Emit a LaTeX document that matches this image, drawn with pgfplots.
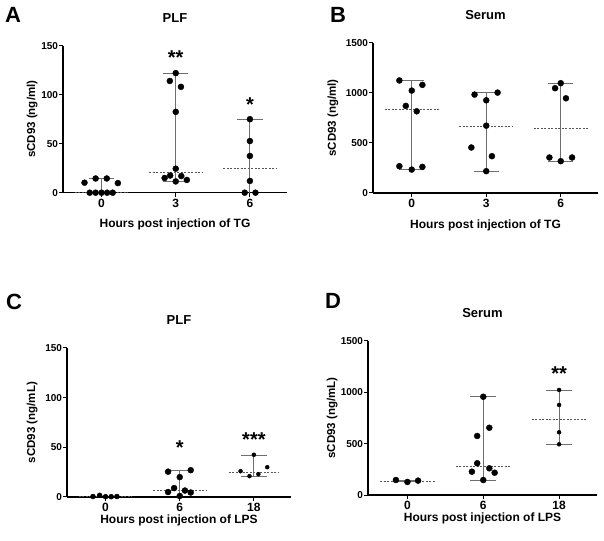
\documentclass[border=0pt]{standalone}
\usepackage{pgfplots}
\pgfplotsset{compat=1.18}
\usepackage{fontspec}
\setmainfont{Liberation Sans}
\definecolor{rngc}{HTML}{6E6E6E}
\definecolor{medc}{HTML}{555555}
\pgfplotsset{
  panel/.style={
    scale only axis, width=224pt, height=148pt,
    axis lines=left, axis line style={-, line width=1.2pt, black},
    xmin=-0.52, xmax=2.5, ymin=0,
    xtick={0,1,2}, tick align=outside, major tick length=4pt,
    tick style={black, line width=1pt},
    clip=false,
    /pgf/number format/assume math mode=true,
    /pgf/number format/1000 sep={},
    xticklabel style={font=\bfseries\fontsize{12}{12}\selectfont, inner ysep=2pt},
    yticklabel style={font=\bfseries\fontsize{10}{10}\selectfont, inner xsep=0.8pt},
    ylabel style={font=\bfseries\fontsize{11.5}{12}\selectfont, anchor=center},
    xlabel style={font=\bfseries\fontsize{12}{12}\selectfont, anchor=center},
    title style={font=\bfseries\fontsize{13}{13}\selectfont, at={(0.5,1)}, anchor=base, yshift=17.5pt},
    scaled y ticks=false,
  },
  rng/.style={rngc, line width=1pt, forget plot},
  med/.style={medc, line width=0.8pt, dash pattern=on 2pt off 1.5pt, forget plot},
  pts/.style={only marks, mark=*, mark size=3pt, black, forget plot},
  spts/.style={only marks, mark=*, mark size=2pt, black, forget plot},
  mpts/.style={only marks, mark=*, mark size=2.5pt, black, forget plot},
}
\newcommand{\starnode}[3]{\node[font=\bfseries\fontsize{20}{20}\selectfont, anchor=base, yshift=-11pt] at (axis cs:#1,#2) {#3};}
\begin{document}
\begin{tikzpicture}
\useasboundingbox (0,0) rectangle (604pt,540pt);
\node[anchor=base west, font=\bfseries\fontsize{22}{22}\selectfont, inner sep=0pt] at (5pt,517pt) {A};
\node[anchor=base west, font=\bfseries\fontsize{22}{22}\selectfont, inner sep=0pt] at (330pt,517pt) {B};
\node[anchor=base west, font=\bfseries\fontsize{22}{22}\selectfont, inner sep=0pt] at (6pt,230pt) {C};
\node[anchor=base west, font=\bfseries\fontsize{22}{22}\selectfont, inner sep=0pt] at (325pt,231pt) {D};

% ---------------- Panel A ----------------
\begin{axis}[panel, at={(63pt,347.3pt)}, anchor=south west, height=147pt,
  ymax=150, ytick={0,50,100,150}, xticklabels={0,3,6},
  title={PLF}, ylabel={sCD93 (ng/ml)}, xlabel={Hours post injection of TG},
  ylabel style={at={(axis description cs:-0.138,0.5)}},
  xlabel style={at={(axis description cs:0.5,-0.218)}}]
% group 0
\addplot[med] coordinates {(-0.36,0) (0.36,0)};
\addplot[rng] coordinates {(0,0) (0,14.5)};
\addplot[rng] coordinates {(-0.17,14.5) (0.17,14.5)};
\addplot[pts] coordinates {(-0.23,10.2) (-0.08,14.5) (0.07,14.5) (0.22,9.8) (-0.16,0) (-0.08,0) (0,0) (0.075,0) (0.15,0)};
% group 3
\addplot[med] coordinates {(0.64,21) (1.36,21)};
\addplot[rng] coordinates {(1,11.5) (1,122)};
\addplot[rng] coordinates {(0.83,122) (1.17,122)};
\addplot[rng] coordinates {(0.83,11.5) (1.17,11.5)};
\addplot[pts] coordinates {(1,122) (0.92,114) (1.07,108) (1,82.5) (1,24.5) (0.925,17.5) (0.85,15) (1.075,17) (1.15,13) (1,11.5)};
% group 6
\addplot[med] coordinates {(1.64,24.5) (2.36,24.5)};
\addplot[rng] coordinates {(2,0) (2,75)};
\addplot[rng] coordinates {(1.83,75) (2.17,75)};
\addplot[pts] coordinates {(2,75) (2,52.7) (2,37.5) (2,12) (1.93,0) (2.075,0)};
\starnode{1}{142}{**}
\starnode{2}{94.5}{*}
\end{axis}

% ---------------- Panel B ----------------
\begin{axis}[panel, at={(373pt,347pt)}, anchor=south west, width=225pt, height=150pt,
  ymax=1500, ytick={0,500,1000,1500}, xticklabels={0,3,6},
  title={Serum}, ylabel={sCD93 (ng/ml)}, xlabel={Hours post injection of TG},
  ylabel style={at={(axis description cs:-0.178,0.5)}},
  xlabel style={at={(axis description cs:0.5,-0.213)}}]
\addplot[med] coordinates {(-0.36,837) (0.36,837)};
\addplot[rng] coordinates {(0,234) (0,1120)};
\addplot[rng] coordinates {(-0.17,1120) (0.17,1120)};
\addplot[rng] coordinates {(-0.17,234) (0.17,234)};
\addplot[pts] coordinates {(-0.166,1125) (0,1024) (0.143,1081) (-0.08,871) (0.067,817) (-0.166,268) (0,234) (0.143,261)};
\addplot[med] coordinates {(0.64,665) (1.36,665)};
\addplot[rng] coordinates {(1,212) (1,1000)};
\addplot[rng] coordinates {(0.83,1000) (1.17,1000)};
\addplot[rng] coordinates {(0.83,212) (1.17,212)};
\addplot[pts] coordinates {(0.843,984) (1.152,1004) (1,927) (1,673) (0.8,455) (1.076,368) (1,218)};
\addplot[med] coordinates {(1.64,646) (2.36,646)};
\addplot[rng] coordinates {(2,318) (2,1090)};
\addplot[rng] coordinates {(1.83,1090) (2.17,1090)};
\addplot[rng] coordinates {(1.83,318) (2.17,318)};
\addplot[pts] coordinates {(1.924,1048) (2,1098) (2.07,947) (1.848,355) (2,318) (2.152,355)};
\end{axis}

% ---------------- Panel C ----------------
\begin{axis}[panel, at={(67pt,43pt)}, anchor=south west, height=149pt,
  ymax=150, ytick={0,50,100,150}, xticklabels={0,6,18},
  title={PLF}, ylabel={sCD93 (ng/mL)}, xlabel={Hours post injection of LPS},
  ylabel style={at={(axis description cs:-0.156,0.5)}},
  xlabel style={at={(axis description cs:0.5,-0.158)}}]
\addplot[med] coordinates {(-0.36,0.5) (0.36,0.5)};
\addplot[rng] coordinates {(0,0.3) (0,1.7)};
\addplot[mpts] coordinates {(-0.17,0.5) (-0.08,1.7) (0,0.3) (0.076,0.3) (0.153,0.5)};
\addplot[med] coordinates {(0.64,7) (1.36,7)};
\addplot[rng] coordinates {(1,1) (1,27)};
\addplot[rng] coordinates {(0.83,27) (1.17,27)};
\addplot[pts] coordinates {(0.843,25.5) (1.148,27) (1,20) (0.924,9) (0.843,5) (1.07,6.5) (1.148,4.5) (1,1)};
\addplot[med] coordinates {(1.66,25.2) (2.34,25.2)};
\addplot[rng] coordinates {(2,21) (2,42)};
\addplot[rng] coordinates {(1.83,42) (2.17,42)};
\addplot[rng] coordinates {(1.83,21) (2.17,21)};
\addplot[spts] coordinates {(2,42.5) (1.82,26) (2.18,30) (2.06,23) (1.94,21)};
\starnode{1}{54}{*}
\starnode{2}{61.7}{***}
\end{axis}

% ---------------- Panel D ----------------
\begin{axis}[panel, at={(368pt,45pt)}, anchor=south west, width=229pt, height=154pt,
  ymax=1500, ytick={0,500,1000,1500}, xticklabels={0,6,18},
  title={Serum}, ylabel={sCD93 (ng/mL)}, xlabel={Hours post injection of LPS},
  ylabel style={at={(axis description cs:-0.157,0.5)}},
  xlabel style={at={(axis description cs:0.5,-0.155)}}]
\addplot[med] coordinates {(-0.36,133) (0.36,133)};
\addplot[rng] coordinates {(0,127) (0,146)};
\addplot[rng] coordinates {(-0.17,146) (0.17,146)};
\addplot[rng] coordinates {(-0.17,127) (0.17,127)};
\addplot[pts] coordinates {(-0.152,146) (0,127) (0.14,140)};
\addplot[med] coordinates {(0.64,276) (1.36,276)};
\addplot[rng] coordinates {(1,146) (1,957)};
\addplot[rng] coordinates {(0.83,957) (1.17,957)};
\addplot[rng] coordinates {(0.83,146) (1.17,146)};
\addplot[pts] coordinates {(1,957) (1.08,655) (0.92,575) (0.92,309) (0.85,227) (1.08,260) (1.15,217) (1,146)};
\addplot[med] coordinates {(1.64,737) (2.36,737)};
\addplot[rng] coordinates {(2,490) (2,1015)};
\addplot[rng] coordinates {(1.83,1015) (2.17,1015)};
\addplot[rng] coordinates {(1.83,490) (2.17,490)};
\addplot[spts] coordinates {(2,1023) (2,877) (2,611) (2,494)};
\starnode{2}{1227}{**}
\end{axis}
\end{tikzpicture}
\end{document}
